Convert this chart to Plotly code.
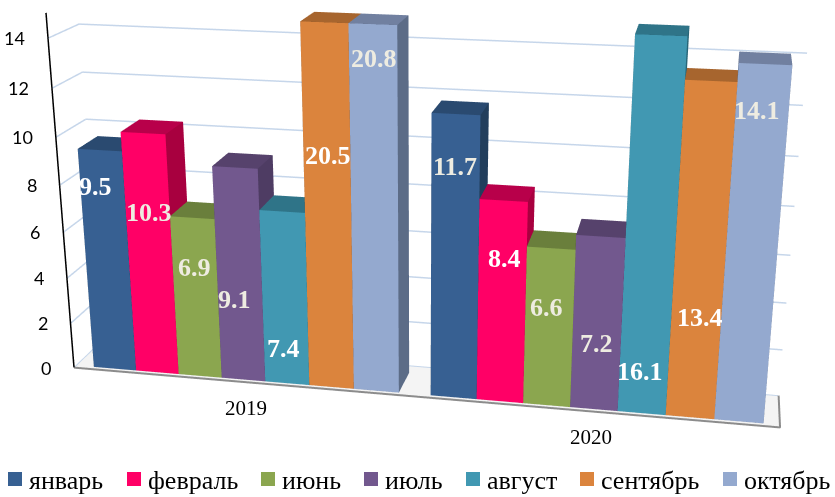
import math
import plotly.graph_objects as go

years = ["2019", "2020"]
months = ["январь", "февраль", "июнь", "июль", "август", "сентябрь", "октябрь"]
values_2019 = [9.5, 10.3, 6.9, 9.1, 7.4, 20.5, 20.8]
values_2020 = [11.7, 8.4, 6.6, 7.2, 16.1, 13.4, 14.1]
z_ticks = [0, 2, 4, 6, 8, 10, 12, 14]
# where each data label sits on its bar in the reference (height, sideways offset in bar widths)
label_z_2019 = [7.95, 7.0, 4.8, 3.5, 1.55, 9.8, 13.7]
label_z_2020 = [9.65, 6.05, 4.15, 2.8, 1.75, 4.2, 12.4]
label_dx_2019 = [-0.15, 0.02, 0.0, -0.12, -0.05, 0.02, 0.02]
label_dx_2020 = [0.0, 0.05, -0.05, 0.0, -0.07, 0.08, -0.1]
year_label_dx = [3.6, 3.45]
label_colors_2019 = ["#FFFFFF", "#EEECE1", "#EEECE1", "#EEECE1", "#FFFFFF", "#FFFFFF", "#EEECE1"]
label_colors_2020 = ["#EEECE1", "#FFFFFF", "#EEECE1", "#EEECE1", "#FFFFFF", "#FFFFFF", "#EEECE1"]
front_colors = ["#376092", "#FF0066", "#8BA64F", "#72588E", "#4198B2", "#DB843D", "#94A9CF"]
top_colors = ["#2A4A70", "#B8004A", "#6A7F3C", "#56426C", "#2F7488", "#A7652E", "#7180A0"]
side_colors = ["#223E5C", "#A8003F", "#5A6C33", "#4E3C63", "#286577", "#8F5627", "#5C6C87"]
legend_swatch_px = [8, 127, 261, 364, 466, 580, 723]

W, H = 835, 497
Z_MAX = 15
X_MAX = 15.45
group_start = [0.42, 8.12]
Y0, Y1 = 0.08, 0.76
FOV = 0.32
PITCH = math.radians(19)
YAW = math.radians(11.5)
DIST = 4.31
ASPECT = dict(x=2.03, y=0.21, z=1.05)
CENTER = dict(x=-0.004, y=0.0, z=-0.12)
ROLL = 0.02

fig = go.Figure()
annotations = []

# walls: gridlines, axis line and floor edge
for z in z_ticks[1:]:
    fig.add_trace(go.Scatter3d(x=[0, 0, X_MAX], y=[0, 1, 1], z=[z, z, z], mode="lines",
                               line=dict(color="#C6D6EA", width=3), hoverinfo="skip", showlegend=False))
fig.add_trace(go.Scatter3d(x=[0, 0, X_MAX], y=[0, 1, 1], z=[0, 0, 0], mode="lines",
                           line=dict(color="#C6D6EA", width=2), hoverinfo="skip", showlegend=False))
fig.add_trace(go.Scatter3d(x=[0, X_MAX, X_MAX], y=[0, 0, 1], z=[0, 0, 0], mode="lines",
                           line=dict(color="#8C8C8C", width=4), hoverinfo="skip", showlegend=False))
fig.add_trace(go.Scatter3d(x=[0, 0], y=[0, 0], z=[0, Z_MAX], mode="lines",
                           line=dict(color="#000000", width=3), hoverinfo="skip", showlegend=False))

for g, vals in enumerate([values_2019, values_2020]):
    lz = [label_z_2019, label_z_2020][g]
    ldx = [label_dx_2019, label_dx_2020][g]
    lc = [label_colors_2019, label_colors_2020][g]
    for m, v in enumerate(vals):
        x0 = group_start[g] + m
        x1 = x0 + 1
        h = min(v, Z_MAX)
        xs = [x0, x1, x1, x0, x0, x1, x1, x0]
        ys = [Y0, Y0, Y1, Y1, Y0, Y0, Y1, Y1]
        zs = [0, 0, 0, 0, h, h, h, h]
        i = [0, 0, 1, 1, 2, 2, 3, 3, 4, 4, 0, 0]
        j = [1, 5, 2, 6, 3, 7, 0, 4, 5, 6, 1, 2]
        k = [5, 4, 6, 5, 7, 6, 4, 7, 6, 7, 2, 3]
        fc = [front_colors[m]] * 2 + [side_colors[m]] * 2 + [side_colors[m]] * 2 + \
             [side_colors[m]] * 2 + [top_colors[m]] * 2 + [side_colors[m]] * 2
        fig.add_trace(go.Mesh3d(x=xs, y=ys, z=zs, i=i, j=j, k=k, facecolor=fc, flatshading=True,
                                lighting=dict(ambient=1, diffuse=0, specular=0, roughness=1, fresnel=0),
                                hoverinfo="skip", showscale=False, name=f"{years[g]} {months[m]}"))
        annotations.append(dict(x=x0 + 0.5 + ldx[m], y=Y0, z=lz[m], text=f"<b>{v}</b>", showarrow=False,
                                font=dict(family="Liberation Serif", size=26, color=lc[m])))
    annotations.append(dict(x=group_start[g] + year_label_dx[g], y=0, z=0, text=years[g], showarrow=False,
                            yshift=-26, font=dict(family="Liberation Serif", size=21, color="#000000")))

for t in z_ticks:
    annotations.append(dict(x=0, y=0, z=t, text=str(t), showarrow=False, xanchor="right", xshift=-21,
                            font=dict(family="Lato", size=18, color="#000000")))

# legend row
shapes = []
paper_notes = []
for m, name in enumerate(months):
    px = legend_swatch_px[m]
    shapes.append(dict(type="rect", xref="paper", yref="paper", x0=px / W, x1=(px + 14) / W,
                       y0=1 - 486 / H, y1=1 - 472 / H, fillcolor=front_colors[m], line=dict(width=0)))
    paper_notes.append(dict(xref="paper", yref="paper", x=(px + 19) / W, y=1 - 480 / H, text=name,
                            showarrow=False, xanchor="left", yanchor="middle",
                            font=dict(family="Liberation Serif", size=26, color="#000000")))

d = dict(x=math.sin(YAW) * math.cos(PITCH), y=-math.cos(YAW) * math.cos(PITCH), z=math.sin(PITCH))
eye = dict(x=CENTER["x"] + DIST * d["x"], y=CENTER["y"] + DIST * d["y"], z=CENTER["z"] + DIST * d["z"])

hidden = dict(showgrid=False, zeroline=False, showticklabels=False, ticks="", title="", showbackground=False,
              showspikes=False, showline=False)
fig.update_layout(
    width=W, height=H, margin=dict(l=0, r=0, t=0, b=0), paper_bgcolor="white", showlegend=False,
    font=dict(family="Liberation Serif", color="#000000"),
    shapes=shapes, annotations=paper_notes,
    scene=dict(
        domain=dict(x=[0, 1], y=[0, 1]),
        aspectmode="manual", aspectratio=ASPECT,
        camera=dict(eye=eye, center=CENTER, up=dict(x=-ROLL, y=0, z=1)),
        xaxis=dict(range=[0, X_MAX], **hidden),
        yaxis=dict(range=[0, 1], **hidden),
        zaxis=dict(range=[0, Z_MAX], showgrid=False, zeroline=False, showticklabels=False, ticks="", title="",
                   showspikes=False, showline=False, showbackground=True, backgroundcolor="#F4F4F4"),
        annotations=annotations,
    ),
)

post = f"""
document.body.style.margin = '0';
document.body.style.overflow = 'hidden';
var gd = document.getElementById('{{plot_id}}');
var sc = gd._fullLayout.scene._scene;
sc.glplot.fovy = {FOV};
sc.glplot.redraw();
"""
fig.write_html("out.html", post_script=post, config=dict(displayModeBar=False))
